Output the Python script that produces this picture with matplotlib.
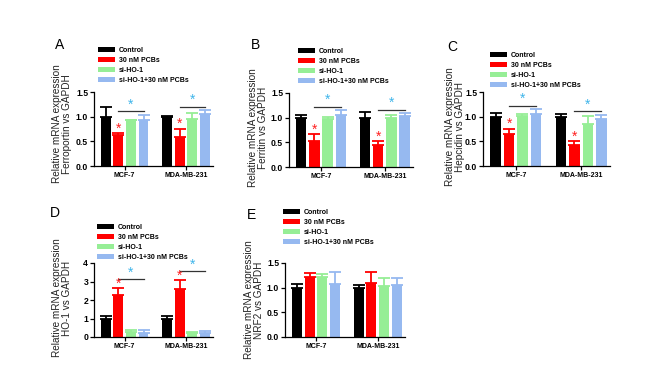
import matplotlib
matplotlib.use("Agg")
import matplotlib.pyplot as plt
import numpy as np

plt.rcParams['font.family'] = ['Liberation Sans', 'DejaVu Sans']

groups = ["MCF-7", "MDA-MB-231"]
treatments = ["Control", "30 nM PCBs", "si-HO-1", "si-HO-1+30 nM PCBs"]
colors = ["#000000", "#ff0000", "#96ee96", "#96b9f0"]

# mean / error per cell line, order = treatments
ferroportin_mean = [[1.0, 0.62, 0.93, 0.93], [1.0, 0.58, 0.95, 1.05]]
ferroportin_err = [[0.2, 0.04, 0.01, 0.1], [0.02, 0.18, 0.13, 0.08]]
ferritin_mean = [[1.0, 0.53, 0.97, 1.05], [1.0, 0.44, 1.0, 1.04]]
ferritin_err = [[0.05, 0.14, 0.04, 0.1], [0.12, 0.08, 0.05, 0.05]]
hepcidin_mean = [[1.0, 0.64, 1.02, 1.05], [1.0, 0.43, 0.85, 0.95]]
hepcidin_err = [[0.07, 0.12, 0.03, 0.1], [0.06, 0.08, 0.16, 0.09]]
ho1_mean = [[0.98, 2.28, 0.27, 0.22], [0.98, 2.58, 0.2, 0.22]]
ho1_err = [[0.14, 0.37, 0.1, 0.14], [0.15, 0.5, 0.05, 0.12]]
nrf2_mean = [[1.0, 1.21, 1.21, 1.07], [1.0, 1.09, 1.04, 1.05]]
nrf2_err = [[0.07, 0.08, 0.06, 0.24], [0.06, 0.22, 0.15, 0.15]]

W, H = 669, 373
fig = plt.figure(figsize=(W / 100, H / 100), dpi=100)


def px_axes(left, top, right, bottom):
    return fig.add_axes([left / W, 1 - bottom / H, (right - left) / W, (bottom - top) / H])


def panel(box, letter, letter_xy, ylab, ylab_xy, means, errs, ymax, yticks, yticklabels,
          legend_xy, signif=True):
    ax = px_axes(*box)
    step = 0.205
    width = 0.16
    for j, lab in enumerate(treatments):
        xs = np.arange(len(groups)) + (j - 1.5) * step
        vals = [means[g][j] for g in range(len(groups))]
        ev = [errs[g][j] for g in range(len(groups))]
        ax.bar(xs, vals, width, color=colors[j], label=lab, zorder=2)
        ax.errorbar(xs, vals, yerr=[np.zeros(len(ev)), ev], fmt='none', ecolor=colors[j],
                    elinewidth=1.3, capsize=4.5, capthick=1.3, zorder=1)
    if signif:
        for g in range(len(groups)):
            tops = [means[g][j] + errs[g][j] for j in range(4)]
            red_star = tops[1] + 0.06 * ymax
            ax.text(g - 0.5 * step, red_star, "*", color="#ff2020", fontsize=10,
                    ha='center', va='center')
            line_y = max(red_star + 0.06 * ymax, max(tops[2:]) + 0.05 * ymax)
            ax.plot([g - 0.5 * step, g + 1.5 * step], [line_y, line_y], color="#333333",
                    lw=0.9, clip_on=False)
            ax.text(g + 0.5 * step, line_y + 0.09 * ymax, "*", color="#3fb5ea", fontsize=10,
                    ha='center', va='center', clip_on=False)
    ax.set_xlim(-0.5, 1.44)
    ax.set_ylim(0, ymax)
    ax.set_yticks(yticks)
    ax.set_yticklabels(yticklabels, fontsize=6.2, fontweight='bold')
    ax.set_xticks(range(len(groups)))
    ax.set_xticklabels(groups, fontsize=5, fontweight='bold')
    ax.tick_params(axis='both', length=3, width=0.9, pad=1.2, direction='out')
    for s in ['top', 'right']:
        ax.spines[s].set_visible(False)
    for s in ['left', 'bottom']:
        ax.spines[s].set_linewidth(0.9)
    ax.patch.set_alpha(0)

    leg = ax.legend(loc='upper left', bbox_to_anchor=(legend_xy[0] / W, 1 - legend_xy[1] / H),
                    bbox_transform=fig.transFigure, frameon=False, fontsize=5,
                    handlelength=2.4, handleheight=0.6, handletextpad=0.6,
                    labelspacing=0.42, borderaxespad=0, borderpad=0)
    for t in leg.get_texts():
        t.set_fontweight('bold')

    fig.text(letter_xy[0] / W, 1 - letter_xy[1] / H, letter, fontsize=10,
             ha='center', va='center')
    fig.text(ylab_xy[0] / W, 1 - ylab_xy[1] / H, "Relative mRNA expression\n" + ylab,
             rotation=90, fontsize=7.2, ha='center', va='center', linespacing=1.0,
             color="#222222")
    return ax


t15 = [0, 0.5, 1.0, 1.5]
l15 = ["0.0", "0.5", "1.0", "1.5"]

panel((94, 92, 213, 166), "A", (60, 45), "Ferroportin vs GAPDH", (62, 124),
      ferroportin_mean, ferroportin_err, 1.5, t15, l15, (98, 47))
panel((289, 93, 413, 167), "B", (256, 45), "Ferritin vs GAPDH", (258, 128),
      ferritin_mean, ferritin_err, 1.5, t15, l15, (298, 48))
panel((483, 92, 610, 166), "C", (452, 47), "Hepcidin vs GAPDH", (455, 127),
      hepcidin_mean, hepcidin_err, 1.5, t15, l15, (490, 52))
panel((94, 263, 213, 337), "D", (55, 213), "HO-1 vs GAPDH", (62, 298),
      ho1_mean, ho1_err, 4, [0, 1, 2, 3, 4], ["0", "1", "2", "3", "4"], (97, 224))
panel((285, 263, 405, 337), "E", (252, 215), "NRF2 vs GAPDH", (254, 300),
      nrf2_mean, nrf2_err, 1.5, t15, l15, (283, 209), signif=False)

fig.savefig("out.png", dpi=100)
